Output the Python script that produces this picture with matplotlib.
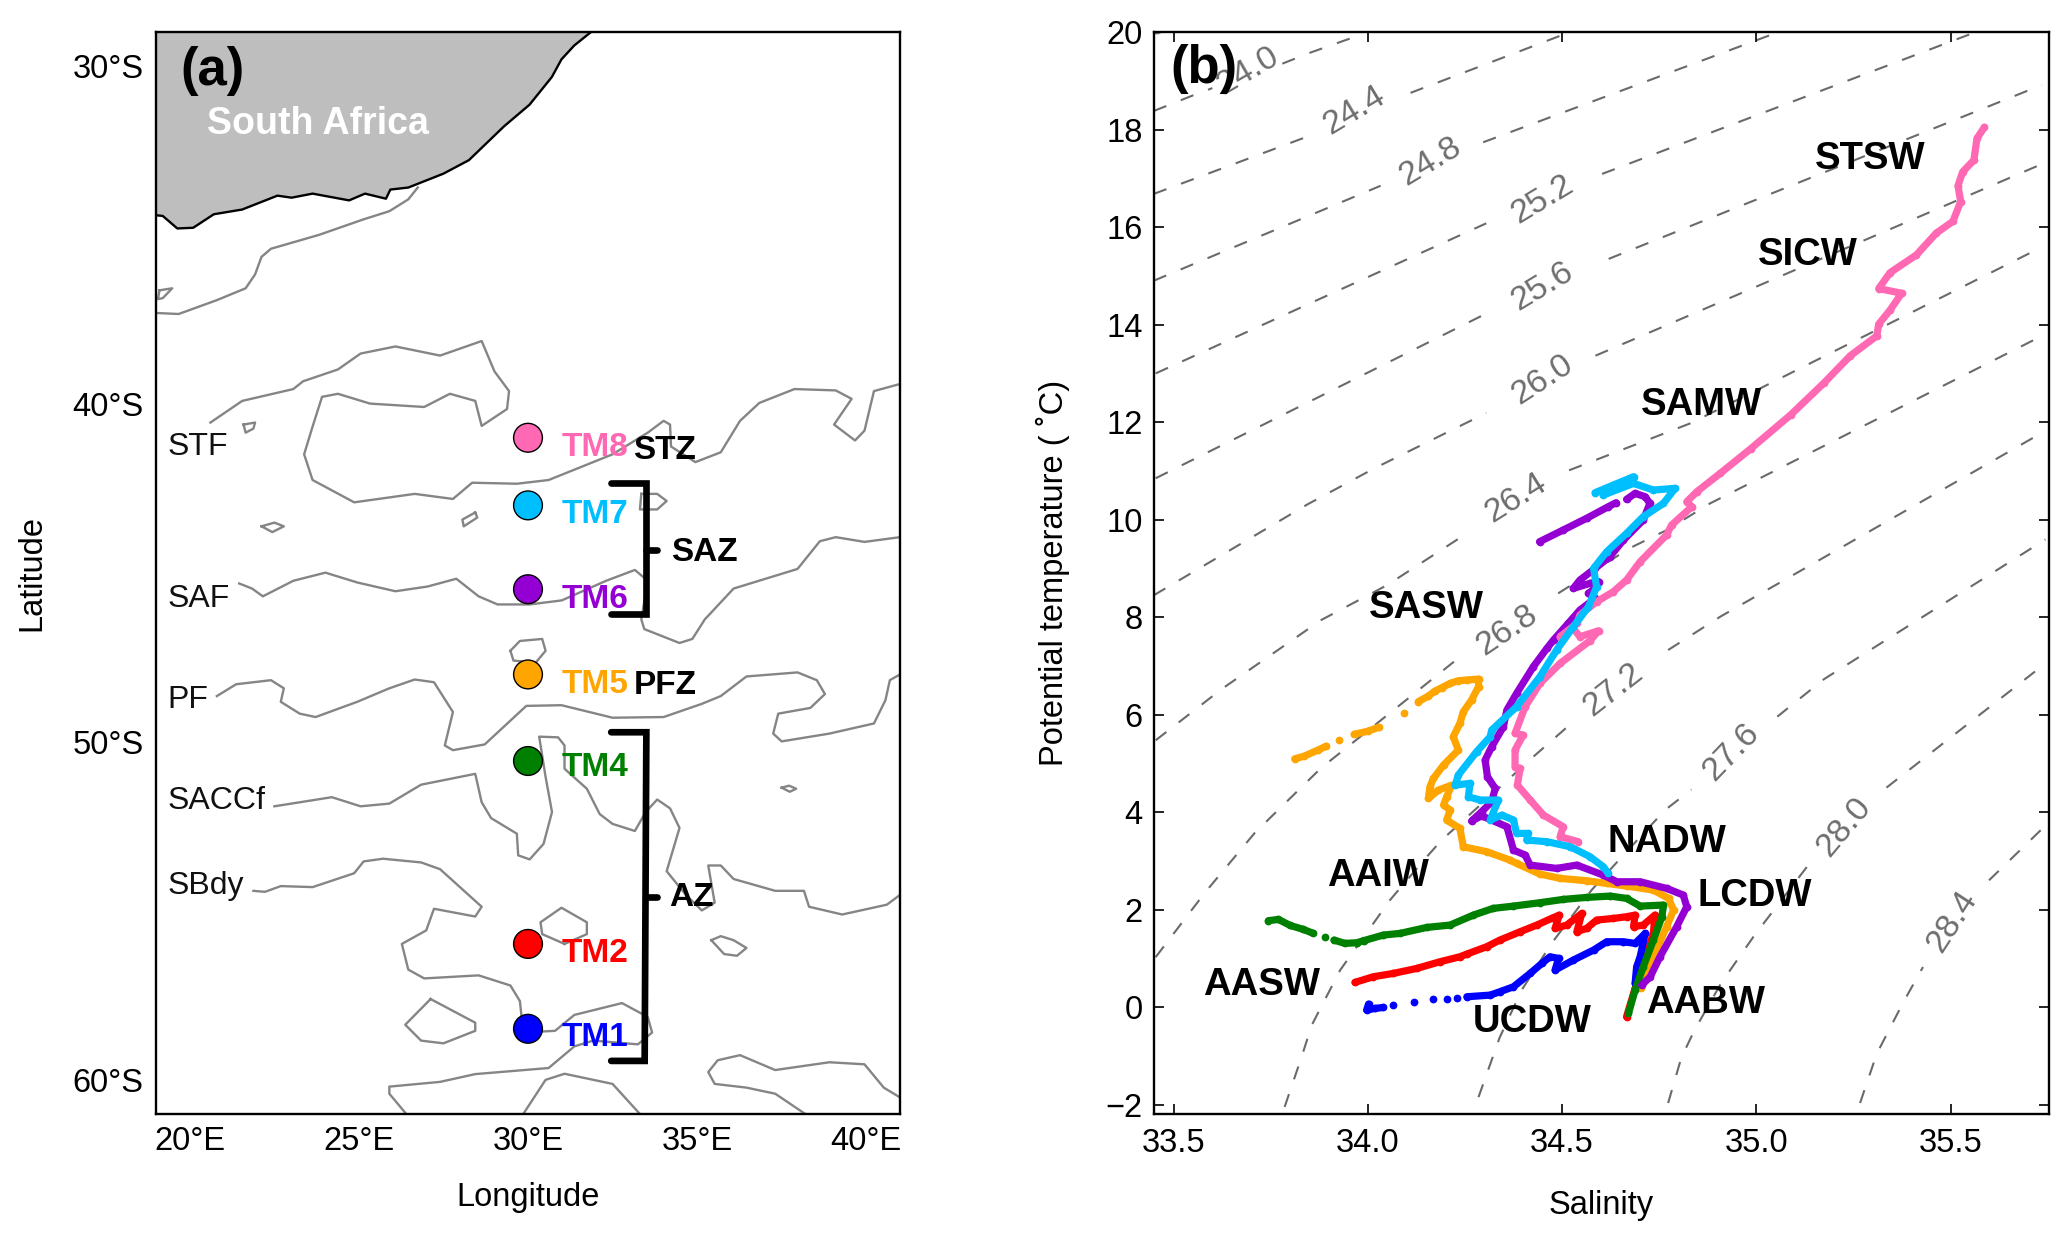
import matplotlib
matplotlib.use("Agg")
import matplotlib.pyplot as plt
import numpy as np

nan = float("nan")
plt.rcParams['font.family'] = ['Liberation Sans', 'DejaVu Sans']

# ---------- panel (a) data ----------
coast_lon = [31.876,31.366,30.989,30.706,30.045,29.291,28.253,27.498,26.46,25.93,25.80,25.18,24.71,23.63,23.01,22.59,21.55,20.71,20.10,19.63,19.20,19.0]
coast_lat = [-28.99,-29.40,-29.81,-30.33,-31.15,-31.79,-32.79,-33.19,-33.60,-33.66,-33.93,-33.78,-33.98,-33.78,-33.90,-33.84,-34.25,-34.39,-34.79,-34.81,-34.44,-34.42]

stf_a_lon = [26.74,26.46,25.90,25.14,23.82,22.40,22.12,21.93,21.65,20.80,19.67,19.0]
stf_a_lat = [-33.60,-33.95,-34.30,-34.54,-35.00,-35.41,-35.65,-36.17,-36.58,-36.93,-37.34,-37.31]
isl1_lon = [19.10,19.48,19.20,19.06,19.10]
isl1_lat = [-36.64,-36.58,-36.87,-36.90,-36.64]
stf_lon = [20.61,21.55,23.06,23.35,24.38,25.05,26.08,27.40,28.63,29.01,29.44,29.38,28.63,28.44,27.69,26.93,25.33,24.38,23.91,23.63,23.38,23.63,24.86,26.65,27.78,28.35,29.67,30.61,32.50,33.54,34.01,34.20,34.23,34.95,35.70,36.27,36.84,37.88,39.10,39.57,39.05,39.67,39.95,40.23,41.0]
stf_lat = [-40.55,-39.91,-39.56,-39.33,-38.98,-38.51,-38.30,-38.57,-38.14,-39.04,-39.62,-40.15,-40.65,-39.91,-39.70,-40.09,-39.99,-39.70,-39.79,-40.67,-41.49,-42.25,-42.91,-42.66,-42.81,-42.33,-42.36,-42.25,-41.49,-40.85,-40.50,-40.61,-41.26,-41.72,-41.43,-40.50,-39.97,-39.56,-39.60,-39.85,-40.61,-41.08,-40.79,-39.62,-39.41]
isl2_lon = [21.59,21.93,21.88,21.65,21.59]
isl2_lat = [-40.61,-40.55,-40.73,-40.85,-40.61]
isl3_lon = [22.12,22.50,22.78,22.44,22.12]
isl3_lat = [-43.62,-43.51,-43.62,-43.79,-43.62]
isl4_lon = [28.44,28.06,28.10,28.50,28.44]
isl4_lat = [-43.21,-43.42,-43.62,-43.36,-43.21]
isl5_lon = [33.35,33.82,34.10,33.82,33.31,33.35]
isl5_lat = [-42.66,-42.66,-42.87,-43.12,-43.12,-42.66]
saf_lon = [21.46,21.84,22.16,23.06,24.01,24.95,26.08,27.03,27.88,28.54,29.10,30.05,31.0,32.31,33.16,33.54,33.35,33.44,34.48,34.86,35.23,36.08,37.97,38.63,39.10,39.95,41.0]
saf_lat = [-45.31,-45.46,-45.69,-45.23,-44.99,-45.28,-45.54,-45.40,-45.17,-45.69,-45.93,-45.93,-45.81,-45.23,-44.91,-45.23,-46.37,-46.66,-47.07,-46.95,-46.37,-45.46,-44.88,-44.06,-43.94,-44.08,-43.94]
loop5_lon = [29.48,29.76,30.42,30.52,30.23,29.57,29.48]
loop5_lat = [-47.30,-47.01,-46.95,-47.30,-47.65,-47.59,-47.30]
pf_lon = [20.80,21.37,22.40,22.78,22.69,23.25,23.72,24.95,25.90,26.65,27.22,27.78,27.54,27.78,28.72,29.95,30.99,32.50,34.01,35.14,35.70,36.46,37.97,38.54,38.78,38.35,37.40,37.25,37.50,38.91,40.23,40.57,40.70,41.0]
pf_lat = [-48.64,-48.29,-48.17,-48.41,-48.81,-49.16,-49.26,-48.81,-48.41,-48.15,-48.23,-49.11,-50.10,-50.24,-50.07,-48.93,-48.91,-49.28,-49.26,-48.87,-48.64,-48.06,-47.94,-48.17,-48.58,-48.99,-49.16,-49.75,-49.98,-49.75,-49.45,-48.76,-48.17,-48.00]
sacc_lon = [22.50,24.20,25.05,25.90,26.84,28.44,28.63,28.91,29.67,29.71,30.05,30.46,30.71,30.52,30.33,30.89,31.08,31.08,31.74,32.12,32.50,33.16,33.48,33.82,34.20,34.48,34.10,34.67,35.14,35.52,35.33,35.70,36.08,37.31,38.16,38.31,39.29,40.61,41.0]
sacc_lat = [-51.90,-51.63,-51.90,-51.82,-51.26,-50.94,-51.78,-52.25,-52.71,-53.35,-53.47,-53.01,-52.07,-51.03,-49.84,-49.86,-50.10,-50.79,-51.38,-52.13,-52.42,-52.63,-52.07,-51.70,-51.96,-52.54,-53.82,-54.52,-54.98,-54.75,-53.65,-53.65,-54.05,-54.40,-54.40,-54.87,-55.10,-54.81,-54.52]
isl6_lon = [37.50,37.72,37.93,37.74,37.50]
isl6_lat = [-51.35,-51.29,-51.38,-51.47,-51.35]
sb_lon = [21.88,22.22,22.69,23.63,24.86,25.14,25.71,26.84,27.40,28.63,28.44,27.22,26.99,26.27,26.46,26.93,28.54,29.48,29.76,29.86,30.80,31.37,32.78,33.54,33.67,33.25,31.93,31.37,30.61,28.44,27.40,25.90,25.90,26.40]
sb_lat = [-54.40,-54.43,-54.26,-54.29,-53.88,-53.53,-53.45,-53.56,-53.76,-54.87,-55.16,-54.93,-55.57,-55.97,-56.73,-56.99,-56.90,-57.20,-57.66,-58.59,-58.54,-58.07,-57.72,-58.13,-58.59,-58.94,-58.83,-59.00,-59.64,-59.82,-60.05,-60.19,-60.40,-61.0]
loop2_lon = [31.08,30.42,30.37,30.99,31.74,31.74,31.08]
loop2_lat = [-55.97,-55.68,-55.33,-54.90,-55.33,-55.68,-55.97]
loop3_lon = [27.12,26.37,26.84,27.50,28.44,28.44,27.12]
loop3_lat = [-57.60,-58.36,-58.83,-58.91,-58.54,-58.30,-57.60]
loop4_lon = [35.42,35.70,36.08,36.46,36.18,35.80,35.42]
loop4_lat = [-55.86,-55.74,-55.86,-56.09,-56.32,-56.27,-55.86]
bot1_lon = [29.86,30.52,31.08,32.50,33.31]
bot1_lat = [-61.0,-59.99,-59.81,-60.11,-61.0]
bot2_lon = [38.20,37.31,36.46,35.52,35.33,35.61,36.27,37.31,38.91,39.95,40.52,41.0]
bot2_lat = [-61.0,-60.40,-60.22,-60.11,-59.76,-59.41,-59.26,-59.70,-59.47,-59.53,-60.22,-60.51]

front_lines = [(stf_a_lon,stf_a_lat),(isl1_lon,isl1_lat),(stf_lon,stf_lat),(isl2_lon,isl2_lat),(isl3_lon,isl3_lat),
               (isl4_lon,isl4_lat),(isl5_lon,isl5_lat),(saf_lon,saf_lat),(loop5_lon,loop5_lat),(pf_lon,pf_lat),
               (sacc_lon,sacc_lat),(isl6_lon,isl6_lat),(sb_lon,sb_lat),(loop2_lon,loop2_lat),(loop3_lon,loop3_lat),
               (loop4_lon,loop4_lat),(bot1_lon,bot1_lat),(bot2_lon,bot2_lat)]

stations = ['TM8','TM7','TM6','TM5','TM4','TM2','TM1']
station_lon = [30,30,30,30,30,30,30]
station_lat = [-41.0,-43.0,-45.48,-48.0,-50.56,-55.97,-58.48]
station_colors = ['#ff69b4','#00bfff','#9400d3','#ffa500','#008000','#ff0000','#0000ff']
label_lon = 31.0
label_lat = [-41.28,-43.27,-45.79,-48.29,-50.74,-56.25,-58.74]

front_names = ['STF','SAF','PF','SACCf','SBdy']
front_name_lat = [-41.28,-45.76,-48.76,-51.75,-54.27]
zone_names = ['STZ','SAZ','PFZ','AZ']
zone_lon = [33.12,34.22,33.12,34.18]
zone_lat = [-41.37,-44.38,-48.33,-54.60]
saz_lon = [32.46,33.5,33.5,32.46]
saz_lat = [-42.34,-42.34,-46.22,-46.22]
saz_tick_lon = [33.5,33.82]
saz_tick_lat = [-44.33,-44.33]
az_lon = [32.46,33.5,33.45,32.46]
az_lat = [-49.71,-49.71,-59.43,-59.43]
az_tick_lon = [33.5,33.82]
az_tick_lat = [-54.58,-54.58]

lon_ticks = [20,25,30,35,40]
lat_ticks = [-30,-40,-50,-60]

# ---------- panel (b) data ----------
tm8_s = [35.587,35.568,35.560,35.531,35.519,35.526,35.506,35.463,35.412,35.344,35.315,35.374,35.344,35.315,35.310,35.242,35.173,35.088,34.986,34.907,34.847,34.821,34.834,34.782,34.769,34.701,34.666,34.632,34.589,34.546,34.538,34.495,34.529,34.546,34.594,34.572,34.495,34.443,34.405,34.379,34.400,34.379,34.379,34.392,34.385,34.418,34.452,34.503,34.495,34.542]
tm8_t = [18.047,17.820,17.374,17.131,16.847,16.523,16.118,15.875,15.429,15.064,14.740,14.643,14.295,14.011,13.768,13.363,12.795,12.147,11.458,10.950,10.575,10.369,10.267,9.891,9.686,9.139,8.763,8.524,8.319,8.045,7.875,7.601,7.772,7.601,7.724,7.520,7.054,6.644,6.166,5.619,5.585,5.277,4.935,4.901,4.560,4.252,3.944,3.705,3.500,3.398]
tm7_s = [34.585,34.632,34.684,34.666,34.606,34.684,34.735,34.791,34.761,34.709,34.666,34.615,34.581,34.589,34.568,34.529,34.486,34.443,34.383,34.319,34.315,34.280,34.233,34.225,34.263,34.259,34.289,34.336,34.315,34.345,34.375,34.383,34.413,34.409,34.461,34.521,34.572,34.606,34.619]
tm7_t = [10.554,10.711,10.882,10.780,10.506,10.745,10.609,10.643,10.335,10.062,9.720,9.344,9.002,8.626,8.216,7.806,7.328,6.781,6.166,5.687,5.551,5.243,4.765,4.559,4.594,4.320,4.252,4.252,3.842,3.944,3.842,3.568,3.568,3.432,3.398,3.295,3.090,2.885,2.748]
tm6_s = [34.442,34.503,34.563,34.619,34.639,nan,34.666,34.688,34.714,34.726,34.709,34.658,34.623,34.585,34.546,34.529,34.572,34.594,34.585,34.568,34.585,34.546,34.516,34.478,34.461,34.426,34.383,34.358,34.349,34.319,34.302,34.308,34.328,34.319,34.293,34.267,34.293,34.358,34.375,34.405,34.418,34.486,34.538,34.606,34.641,34.701,34.769,34.812,34.821,34.795,34.752,34.727,34.705]
tm6_t = [9.549,9.789,10.028,10.267,10.349,nan,10.417,10.540,10.472,10.335,9.994,9.583,9.242,9.002,8.763,8.592,8.695,8.729,8.592,8.490,8.387,8.148,7.875,7.533,7.362,6.986,6.439,6.098,5.756,5.346,5.072,4.730,4.491,4.218,4.013,3.821,3.930,3.705,3.227,3.124,2.919,2.851,2.919,2.714,2.577,2.577,2.441,2.304,2.065,1.655,1.039,0.629,0.458]
tm5_s = [33.812,33.837,33.871,33.893,nan,33.926,nan,33.965,34.0,34.028,nan,34.093,nan,34.130,34.156,34.173,34.190,34.212,34.233,34.255,34.285,34.285,34.267,34.246,34.237,34.220,34.233,34.195,34.169,34.160,34.156,34.182,34.216,34.203,34.195,34.212,34.203,34.237,34.246,34.306,34.366,34.383,34.443,34.495,34.563,34.615,34.666,34.735,34.774,34.787,34.769,34.735,34.709,34.703]
tm5_t = [5.097,5.154,5.275,5.356,nan,5.477,nan,5.599,5.663,5.744,nan,6.043,nan,6.268,6.385,6.487,6.555,6.644,6.699,6.713,6.733,6.576,6.302,6.063,5.824,5.551,5.277,4.970,4.696,4.525,4.286,4.457,4.559,4.320,4.149,4.047,3.842,3.671,3.295,3.193,3.021,2.953,2.735,2.646,2.598,2.543,2.489,2.407,2.236,1.996,1.655,1.039,0.561,0.390]
tm4_s = [33.744,33.770,33.800,33.834,33.860,nan,33.890,nan,33.913,33.941,33.972,33.989,34.040,34.083,34.152,34.212,34.272,34.323,34.375,34.443,34.503,34.563,34.624,34.666,34.701,34.761,34.757,34.735,34.709,34.688,34.671]
tm4_t = [1.778,1.805,1.682,1.600,1.518,nan,1.450,nan,1.381,1.313,1.327,1.368,1.484,1.518,1.641,1.689,1.894,2.031,2.078,2.147,2.215,2.256,2.283,2.236,2.078,2.099,1.860,1.381,0.834,0.356,-0.123]
tm2_s = [33.967,34.014,34.066,34.126,34.186,34.237,34.255,34.306,34.340,34.392,34.435,34.473,34.493,34.482,34.512,34.551,34.538,34.563,34.589,34.632,34.666,34.688,34.684,34.709,34.739,34.735,34.709,34.688,34.666]
tm2_t = [0.513,0.629,0.698,0.800,0.937,1.039,1.094,1.245,1.381,1.552,1.689,1.825,1.894,1.620,1.689,1.928,1.552,1.620,1.791,1.825,1.860,1.894,1.655,1.689,1.894,1.518,0.903,0.390,-0.191]
tm1_s = [34.002,33.997,34.019,34.040,nan,34.064,nan,34.119,nan,34.169,nan,34.203,nan,34.229,nan,34.255,34.315,34.340,34.375,34.418,34.448,34.469,34.491,34.482,34.529,34.581,34.615,34.658,34.688,34.714,34.701,34.692,34.688]
tm1_t = [0.069,-0.054,-0.020,0.000,nan,0.041,nan,0.110,nan,0.164,nan,0.178,nan,0.199,nan,0.219,0.253,0.322,0.424,0.698,0.903,1.039,1.005,0.766,0.971,1.176,1.347,1.347,1.313,1.518,1.039,0.834,0.493]

# isopycnals; nan = gap left for the inline label
sig240_s = [33.449,33.55,33.60,nan,33.78,33.846,33.990]
sig240_t = [18.38,18.70,18.85,nan,19.35,19.56,19.967]
sig244_s = [33.449,33.846,nan,34.110,34.510]
sig244_t = [16.68,17.860,nan,18.752,19.967]
sig248_s = [33.449,34.033,nan,34.297,35.046]
sig248_t = [14.90,16.847,nan,17.739,19.967]
sig252_s = [33.454,34.305,nan,34.603,35.565]
sig252_t = [13.0,16.077,nan,17.090,20.0]
sig256_s = [33.454,34.322,nan,34.620,35.735]
sig256_t = [10.85,14.295,nan,15.348,18.914]
sig260_s = [33.449,33.846,34.016,34.305,nan,34.586,35.735]
sig260_t = [8.45,10.32,11.05,12.188,nan,13.363,17.293]
sig264_s = [33.454,33.624,33.880,34.05,34.254,nan,34.518,34.833,35.735]
sig264_t = [5.477,6.528,7.943,8.66,9.716,nan,11.013,11.985,15.591]
sig268_s = [33.454,33.582,33.709,33.880,34.058,34.229,nan,34.490,34.675,34.770,34.881,35.735]
sig268_t = [1.031,2.365,3.578,4.911,6.043,7.135,nan,8.49,9.42,9.79,10.335,13.768]
sig272_s = [33.786,33.829,33.856,33.929,34.057,34.152,34.19,34.426,34.529,nan,34.773,34.907,35.744]
sig272_t = [-2.04,-1.03,-0.36,0.766,2.2,3.09,3.43,5.14,5.86,nan,7.328,8.011,11.823]
sig276_s = [34.285,34.339,34.396,34.473,34.576,34.658,34.765,34.833,nan,35.054,35.174,35.744]
sig276_t = [-1.839,-0.626,0.356,1.313,2.407,3.124,4.047,4.467,nan,5.962,6.73,9.595]
sig280_s = [34.773,34.807,34.841,34.910,34.995,35.131,nan,35.335,35.744]
sig280_t = [-1.96,-1.03,-0.464,0.506,1.476,2.89,nan,4.507,7.054]
sig284_s = [35.267,35.310,35.378,35.429,nan,35.599,35.735]
sig284_t = [-1.96,-0.95,0.102,0.829,nan,2.607,3.658]
isopycnals = [(sig240_s,sig240_t),(sig244_s,sig244_t),(sig248_s,sig248_t),(sig252_s,sig252_t),(sig256_s,sig256_t),
              (sig260_s,sig260_t),(sig264_s,sig264_t),(sig268_s,sig268_t),(sig272_s,sig272_t),(sig276_s,sig276_t),
              (sig280_s,sig280_t),(sig284_s,sig284_t)]

sig_labels = ['23.6','24.0','24.4','24.8','25.2','25.6','26.0','26.4','26.8','27.2','27.6','28.0','28.4']
sig_label_s = [33.47,33.69,33.965,34.161,34.450,34.450,34.450,34.382,34.358,34.632,34.935,35.225,35.505]
sig_label_t = [20.2,19.2,18.387,17.334,16.564,14.781,12.876,10.446,7.738,6.508,5.235,3.699,1.759]
sig_label_rot = [30,30,31,31,31,31,33,32,34,38,46,50,57]

water_names = ['STSW','SICW','SAMW','SASW','NADW','AAIW','LCDW','AASW','AABW','UCDW']
water_s = [35.151,35.003,34.702,34.002,34.618,33.895,34.848,33.576,34.716,34.270]
water_t = [17.39,15.43,12.35,8.20,3.39,2.69,2.29,0.45,0.10,-0.30]

sal_ticks = [33.5,34.0,34.5,35.0,35.5]
temp_ticks = [-2,0,2,4,6,8,10,12,14,16,18,20]

W, H = 2067, 1238
fig = plt.figure(figsize=(W/100, H/100), dpi=100)

def place(l, t, r, b):
    return fig.add_axes([l/W, 1-b/H, (r-l)/W, (b-t)/H])

# ---------- panel (a) ----------
ax = place(156, 32, 900, 1114)
ax.set_xlim(19, 41)
ax.set_ylim(-61, -29)
ax.fill(coast_lon + [19.0, 31.876], coast_lat + [-29, -29], color='#bebebe', lw=0, zorder=1)
for lo, la in front_lines:
    ax.plot(lo, la, color='#858585', lw=1.7, solid_joinstyle='round', zorder=2)
ax.plot(coast_lon, coast_lat, color='black', lw=1.7, zorder=3)

for n, lat in zip(front_names, front_name_lat):
    ax.text(19.35, lat, n, fontsize=23, va='center', ha='left', color='#111111', zorder=5)

ax.scatter(station_lon, station_lat, s=430, c=station_colors, edgecolors='black', linewidths=1.0, zorder=6)
for n, lat, c in zip(stations, label_lat, station_colors):
    ax.text(label_lon, lat, n, color=c, fontsize=24, fontweight='bold', va='center', ha='left', zorder=6)
for n, lo, la in zip(zone_names, zone_lon, zone_lat):
    ax.text(lo, la, n, color='black', fontsize=24, fontweight='bold', va='center', ha='left', zorder=6)
for lo, la in [(saz_lon, saz_lat), (saz_tick_lon, saz_tick_lat), (az_lon, az_lat), (az_tick_lon, az_tick_lat)]:
    ax.plot(lo, la, color='black', lw=4.8, solid_capstyle='round', solid_joinstyle='miter', zorder=5)

ax.text(19.72, -30.15, '(a)', fontsize=38, fontweight='bold', va='center', ha='left', zorder=7)
ax.text(20.5, -31.72, 'South Africa', fontsize=27, fontweight='bold', color='white', va='center', ha='left', zorder=7)

ax.set_xticks(lon_ticks)
ax.set_xticklabels([f'{v}°E' for v in lon_ticks])
ax.set_yticks(lat_ticks)
ax.set_yticklabels([f'{-v}°S' for v in lat_ticks])
ax.tick_params(axis='both', length=0, labelsize=23.5)
ax.tick_params(axis='x', pad=9)
ax.tick_params(axis='y', pad=9)
ax.set_xlabel('Longitude', fontsize=23.5, va='center')
ax.xaxis.set_label_coords(0.5, -0.077)
ax.set_ylabel('Latitude', fontsize=23.5, va='center')
ax.yaxis.set_label_coords(-0.167, 0.5)
for s in ax.spines.values():
    s.set_linewidth(1.7)

# ---------- panel (b) ----------
bx = place(1153.7, 32, 2048.5, 1114)
bx.set_xlim(33.449, 35.752)
bx.set_ylim(-2.185, 20)
for s_, t_ in isopycnals:
    bx.plot(s_, t_, color='#6a6a6a', lw=1.5, dashes=(6.5, 7.5), zorder=1)
for n, s_, t_, r in zip(sig_labels, sig_label_s, sig_label_t, sig_label_rot):
    bx.text(s_, t_, n, color='#6e6e6e', fontsize=24.5, rotation=r, rotation_mode='anchor',
            ha='center', va='center', clip_on=True, zorder=2)

series = [(tm2_s, tm2_t, '#ff0000'), (tm1_s, tm1_t, '#0000ff'), (tm5_s, tm5_t, '#ffa500'),
          (tm4_s, tm4_t, '#008000'), (tm6_s, tm6_t, '#9400d3'), (tm8_s, tm8_t, '#ff69b4'),
          (tm7_s, tm7_t, '#00bfff')]
for s_, t_, c in series:
    bx.plot(s_, t_, color=c, lw=5.2, marker='o', ms=5.6, mew=0, solid_capstyle='round',
            solid_joinstyle='round', zorder=3)

for n, s_, t_ in zip(water_names, water_s, water_t):
    bx.text(s_, t_, n, color='black', fontsize=27.5, fontweight='bold', va='center', ha='left', zorder=5)
bx.text(33.493, 19.24, '(b)', fontsize=38, fontweight='bold', va='center', ha='left', zorder=6)

bx.set_xticks(sal_ticks)
bx.set_xticklabels([f'{v:.1f}' for v in sal_ticks])
bx.set_yticks(temp_ticks)
bx.tick_params(axis='both', direction='in', length=7, width=1.2, labelsize=23.5, top=True, right=True)
bx.tick_params(axis='x', pad=10)
bx.tick_params(axis='y', pad=8)
bx.set_xlabel('Salinity', fontsize=23.5, va='center')
bx.xaxis.set_label_coords(0.5, -0.085)
bx.set_ylabel('Potential temperature ( ˚C)', fontsize=23.5, va='center')
bx.yaxis.set_label_coords(-0.113, 0.5)
for s in bx.spines.values():
    s.set_linewidth(1.7)

fig.savefig('out.png', dpi=100)
